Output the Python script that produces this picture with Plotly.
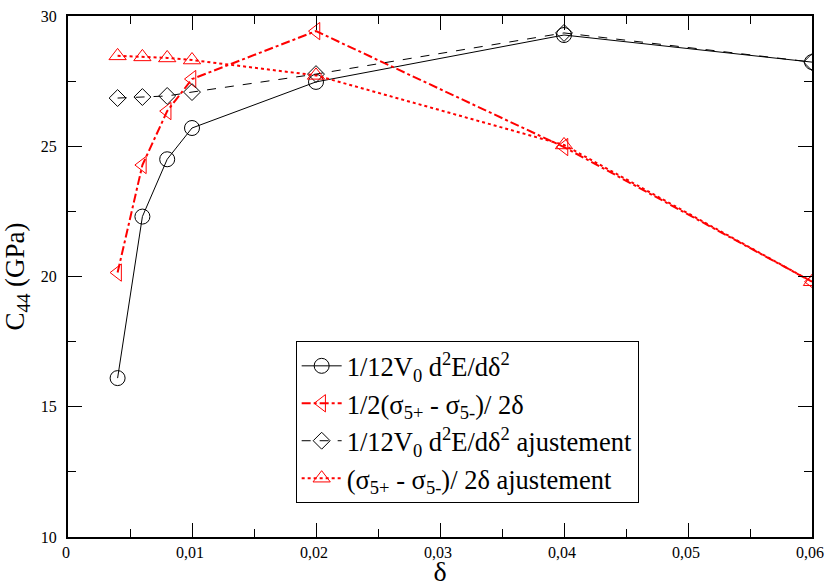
import plotly.graph_objects as go

delta = [0.004, 0.006, 0.008, 0.01, 0.02, 0.04, 0.06]
c_energy = [16.1, 22.3, 24.5, 25.7, 27.47, 29.27, 28.23]
c_stress = [20.15, 24.28, 26.35, 27.58, 29.42, 24.97, 19.8]
c_energy_fit = [26.85, 26.89, 26.93, 27.08, 27.77, 29.35, 28.23]
c_stress_fit = [28.47, 28.43, 28.39, 28.31, 27.72, 25.05, 19.8]

names = [
    "1/12V<sub>0</sub> d<sup>2</sup>E/dδ<sup>2</sup>",
    "1/2(σ<sub>5+</sub> - σ<sub>5-</sub>)/ 2δ",
    "1/12V<sub>0</sub> d<sup>2</sup>E/dδ<sup>2</sup> ajustement",
    "(σ<sub>5+</sub> - σ<sub>5-</sub>)/ 2δ ajustement",
]
x_tickvals = [0, 0.01, 0.02, 0.03, 0.04, 0.05, 0.06]
x_ticktext = ["0", "0,01", "0,02", "0,03", "0,04", "0,05", "0,06"]
y_tickvals = [10, 15, 20, 25, 30]

SERIF = "Liberation Serif, Times New Roman, serif"
RED = "#ff0000"
fig = go.Figure()
fig.add_trace(go.Scatter(x=delta, y=c_energy, name=names[0], mode="lines+markers",
    line=dict(color="black", width=1),
    marker=dict(symbol="circle-open", size=15, color="black", line=dict(width=1))))
fig.add_trace(go.Scatter(x=delta, y=c_stress, name=names[1], mode="lines+markers",
    line=dict(color=RED, width=2, dash="dashdot"),
    marker=dict(symbol="triangle-left-open", size=15, color=RED, line=dict(width=1))))
fig.add_trace(go.Scatter(x=delta, y=c_energy_fit, name=names[2], mode="lines+markers",
    line=dict(color="black", width=1, dash="dash"),
    marker=dict(symbol="diamond-open", size=13, color="black", line=dict(width=1))))
fig.add_trace(go.Scatter(x=delta, y=c_stress_fit, name=names[3], mode="lines+markers",
    line=dict(color=RED, width=2, dash="dot"),
    marker=dict(symbol="triangle-up-open", size=15, color=RED, line=dict(width=1))))

fig.update_xaxes(range=[0, 0.06], tickvals=x_tickvals, ticktext=x_ticktext, ticklen=14,
                 automargin=False, ticklabelshift=-2,
                 showgrid=False, zeroline=False, showline=True, linecolor="black",
                 linewidth=2, mirror="ticks", ticks="inside", tickcolor="black",
                 ticklabeloverflow="allow",
                 tickfont=dict(family=SERIF, size=16, color="black"),
                 minor=dict(ticks="inside", ticklen=8, dtick=0.005, tickcolor="black"),
                 title=dict(text="δ", font=dict(family=SERIF, size=28, color="black"), standoff=12))
fig.update_yaxes(range=[10, 30], tickvals=y_tickvals, ticklen=14, ticklabelstandoff=6,
                 automargin=False, ticklabeloverflow="allow",
                 showgrid=False, zeroline=False, showline=True, linecolor="black",
                 linewidth=2, mirror="ticks", ticks="inside", tickcolor="black",
                 tickfont=dict(family=SERIF, size=16, color="black"),
                 minor=dict(ticks="inside", ticklen=8, dtick=2.5, tickcolor="black"),
                 title=dict(text="C<sub>44</sub> (GPa)", font=dict(family=SERIF, size=27, color="black"), standoff=16))
fig.update_layout(
    width=825, height=587,
    margin=dict(l=68, r=13, t=16, b=50),
    paper_bgcolor="white", plot_bgcolor="white",
    font=dict(family=SERIF, color="black"),
    showlegend=True,
    legend=dict(x=0.306, y=0.376, xanchor="left", yanchor="top",
                bordercolor="black", borderwidth=1, bgcolor="white",
                font=dict(family=SERIF, size=26.5, color="black"),
                itemwidth=40, tracegroupgap=0),
)
fig.write_html("out.html", config={"displayModeBar": False},
               post_script="document.body.style.margin='0';document.body.style.overflow='hidden';")
